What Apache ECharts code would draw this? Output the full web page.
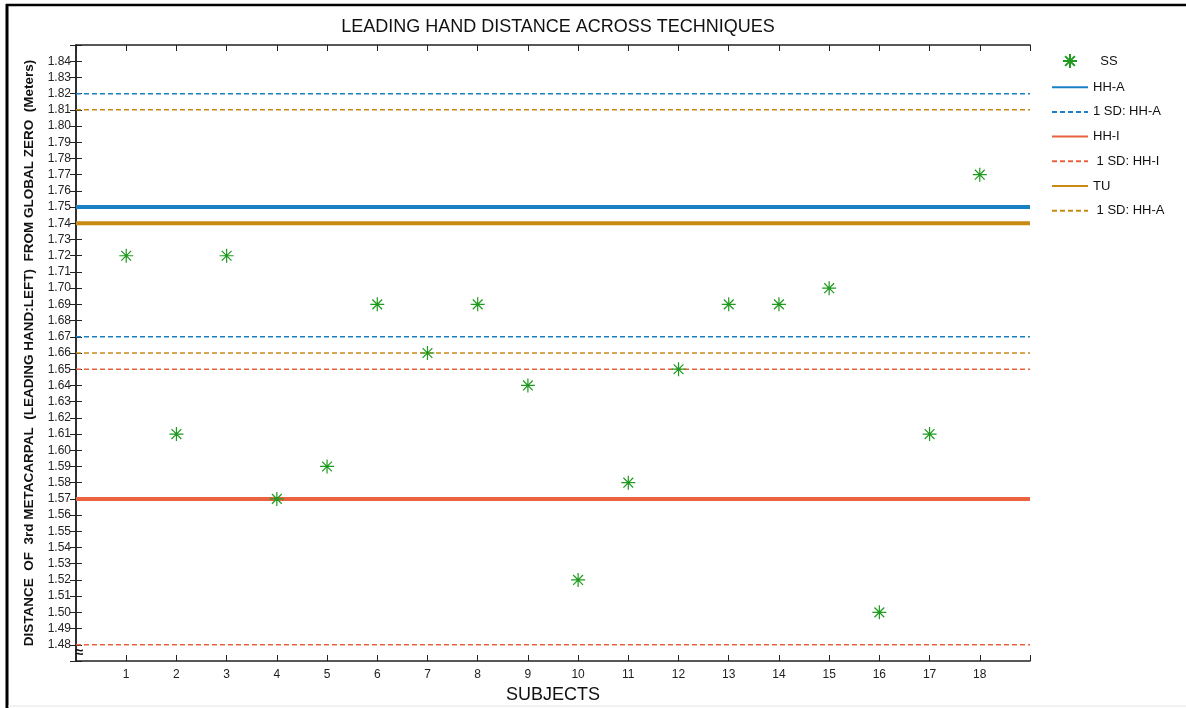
<!DOCTYPE html>
<html>
<head>
<meta charset="utf-8">
<script src="https://cdn.jsdelivr.net/npm/echarts@6/dist/echarts.min.js"></script>
<style>
  html, body { margin: 0; padding: 0; background: #fff; }
  #chart { width: 1186px; height: 708px; }
</style>
</head>
<body>
<div id="chart"></div>
<script>
// Subjects and the SS technique measurement for each one (meters)
const subjects = [1, 2, 3, 4, 5, 6, 7, 8, 9, 10, 11, 12, 13, 14, 15, 16, 17, 18];
const ssValues = [1.72, 1.61, 1.72, 1.57, 1.59, 1.69, 1.66, 1.69, 1.64, 1.52, 1.58, 1.65, 1.69, 1.69, 1.70, 1.50, 1.61, 1.77];

// Mean levels of the other techniques and their +/- 1 SD bands
const hhAMean = 1.75;
const hhASD = [1.67, 1.82];
const hhIMean = 1.57;
const hhISD = [1.48, 1.65];
const tuMean = 1.74;
const tuSD = [1.66, 1.81];

// Axis extents and tick spacing
const yMin = 1.47, yMax = 1.85, yStep = 0.01;
const xMin = 0, xMax = 19;

const FONT = "'Liberation Sans', Arial, sans-serif";
const BLUE = '#1A80C6';
const RED = '#EA6240';
const GOLD = '#C98A14';
const GREEN = '#1E9A1E';

// Horizontal level spanning the full x range
function level(v) {
  return [[xMin, v], [xMax, v]];
}
// Two horizontal levels in one series, separated by a gap
function band(pair) {
  return [[xMin, pair[0]], [xMax, pair[0]], [xMax, '-'], [xMin, pair[1]], [xMax, pair[1]]];
}

const asterisk = 'path://M0,-10L0,10M-10,0L10,0M-7,-7L7,7M-7,7L7,-7';

const chart = echarts.init(document.getElementById('chart'), null, { renderer: 'canvas' });

const tickStyle = { show: true, inside: true, length: 6, lineStyle: { color: '#222', width: 1 } };
const axisLine = { show: true, lineStyle: { color: '#222', width: 1.5 } };

// legend entries for the level lines: line only, no marker
const lineLegend = name => ({ name: name, itemStyle: { opacity: 0 }, lineStyle: { width: 2 } });

chart.setOption({
  animation: false,
  backgroundColor: '#fff',
  textStyle: { fontFamily: FONT },
  title: {
    text: 'LEADING HAND DISTANCE ACROSS TECHNIQUES',
    left: 553,
    textAlign: 'center',
    top: 13,
    textStyle: { fontFamily: FONT, fontSize: 18, fontWeight: 'normal', color: '#111' }
  },
  grid: { left: 76, right: 156, top: 45, bottom: 47, containLabel: false, outerBoundsMode: 'none' },
  legend: {
    orient: 'vertical',
    left: 1046,
    top: 48,
    itemWidth: 36,
    itemHeight: 14,
    itemGap: 11.7,
    textStyle: { fontFamily: FONT, fontSize: 13, color: '#111' },
    data: [
      { name: '  SS' },
      lineLegend('HH-A'),
      lineLegend('1 SD: HH-A'),
      lineLegend('HH-I'),
      lineLegend(' 1 SD: HH-I'),
      lineLegend('TU'),
      lineLegend(' 1 SD: HH-A')
    ]
  },
  xAxis: [
    {
      type: 'value', min: xMin, max: xMax, interval: 1,
      name: 'SUBJECTS', nameLocation: 'middle', nameGap: 23,
      nameTextStyle: { fontFamily: FONT, fontSize: 18, color: '#111' },
      axisLine: axisLine, axisTick: tickStyle, splitLine: { show: false },
      axisLabel: {
        margin: 8, fontSize: 12, color: '#222', fontFamily: FONT,
        formatter: v => (subjects.indexOf(v) >= 0 ? String(v) : '')
      }
    },
    {
      type: 'value', min: xMin, max: xMax, interval: 1, position: 'top',
      axisLine: axisLine, axisTick: tickStyle, splitLine: { show: false },
      axisLabel: { show: false }
    }
  ],
  yAxis: [
    {
      type: 'value', min: yMin, max: yMax, interval: yStep,
      name: 'DISTANCE  OF  3rd METACARPAL  (LEADING HAND:LEFT)  FROM GLOBAL ZERO  (Meters)',
      nameLocation: 'middle', nameGap: 36, nameRotate: 90,
      nameTextStyle: { fontFamily: FONT, fontSize: 13.5, fontWeight: 'bold', color: '#111' },
      axisLine: axisLine, axisTick: tickStyle, splitLine: { show: false },
      axisLabel: {
        margin: 5, fontSize: 12, color: '#222', fontFamily: FONT,
        formatter: v => (v < yMin + yStep / 2 || v > yMax - yStep / 2 ? '' : v.toFixed(2))
      }
    },
    {
      type: 'value', min: yMin, max: yMax, interval: yStep, position: 'right',
      axisLine: axisLine, axisTick: tickStyle, splitLine: { show: false },
      axisLabel: { show: false }
    }
  ],
  series: [
    {
      name: 'HH-A', type: 'line', data: level(hhAMean), symbol: 'none',
      lineStyle: { color: BLUE, width: 4 }, itemStyle: { color: BLUE }, z: 2
    },
    {
      name: '1 SD: HH-A', type: 'line', data: band(hhASD), symbol: 'none', connectNulls: false,
      lineStyle: { color: BLUE, width: 1.5, type: [5, 3] }, itemStyle: { color: BLUE }, z: 2
    },
    {
      name: 'HH-I', type: 'line', data: level(hhIMean), symbol: 'none',
      lineStyle: { color: RED, width: 4 }, itemStyle: { color: RED }, z: 2
    },
    {
      name: ' 1 SD: HH-I', type: 'line', data: band(hhISD), symbol: 'none', connectNulls: false,
      lineStyle: { color: RED, width: 1.5, type: [5, 3] }, itemStyle: { color: RED }, z: 2
    },
    {
      name: 'TU', type: 'line', data: level(tuMean), symbol: 'none',
      lineStyle: { color: GOLD, width: 4 }, itemStyle: { color: GOLD }, z: 2
    },
    {
      name: ' 1 SD: HH-A', type: 'line', data: band(tuSD), symbol: 'none', connectNulls: false,
      lineStyle: { color: GOLD, width: 1.5, type: [5, 3] }, itemStyle: { color: GOLD }, z: 2
    },
    {
      name: '  SS', type: 'scatter', symbol: asterisk, symbolSize: 14,
      data: subjects.map((s, i) => [s, ssValues[i]]),
      itemStyle: { color: 'rgba(0,0,0,0)', borderColor: GREEN, borderWidth: 1.2, opacity: 1 },
      z: 5
    }
  ],
  graphic: [
    // outer frame on the left and top, faint rule at the bottom
    { type: 'line', shape: { x1: 7, y1: 4, x2: 7, y2: 708 }, style: { stroke: '#000', lineWidth: 3 } },
    { type: 'line', shape: { x1: 6, y1: 5, x2: 1186, y2: 5 }, style: { stroke: '#000', lineWidth: 2.5 } },
    { type: 'line', shape: { x1: 8, y1: 706, x2: 1186, y2: 706 }, style: { stroke: '#e4e4e4', lineWidth: 1 } },
    // axis break mark at the foot of the value axis
    {
      type: 'text', left: 75, top: 645, z: 10,
      style: { text: '≈', fontSize: 15, fontWeight: 'bold', fill: '#111', fontFamily: FONT }
    }
  ]
});
</script>
</body>
</html>
